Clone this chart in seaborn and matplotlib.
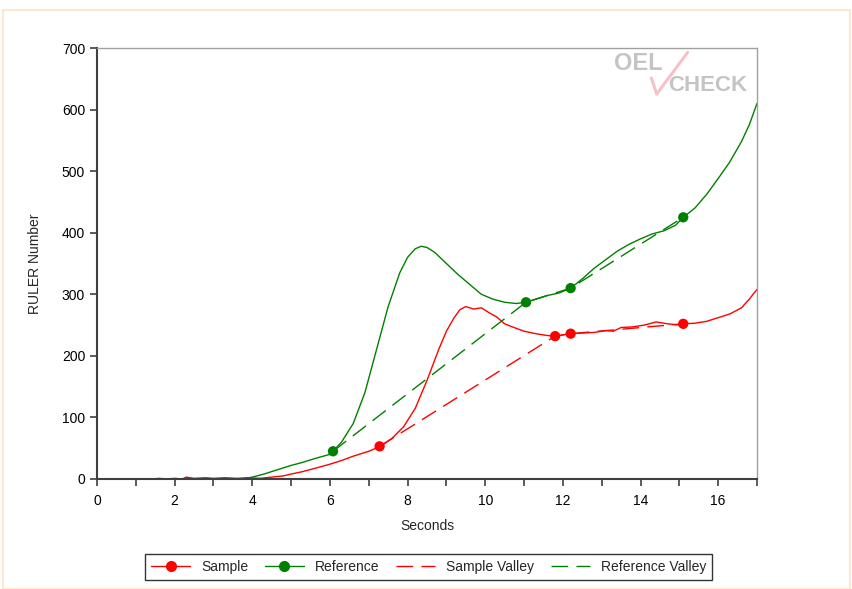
import numpy as np
import pandas as pd
import matplotlib
matplotlib.use('Agg')
import matplotlib.pyplot as plt
import seaborn as sns
from matplotlib.lines import Line2D
from matplotlib.patches import Rectangle

# DATA
sample_t = [1.4, 1.6, 1.8, 2.0, 2.2, 2.3, 2.5, 2.8, 3.0, 3.3, 3.6, 3.9, 4.2, 4.5, 4.8,
            5.0, 5.3, 5.6, 6.0, 6.3, 6.6, 7.0, 7.3, 7.6, 7.9, 8.2, 8.5, 8.8, 9.0, 9.2,
            9.35, 9.5, 9.7, 9.9, 10.1, 10.3, 10.5, 10.7, 11.0, 11.3, 11.6, 11.8, 12.0,
            12.2, 12.5, 12.8, 13.1, 13.3, 13.5, 13.8, 14.1, 14.4, 14.7, 15.0, 15.1,
            15.4, 15.7, 16.0, 16.3, 16.6, 16.8, 17.0]
sample_v = [0, 1, 0, 1, 0, 3, 1, 2, 1, 2, 1, 2, 1, 3, 5,
            8, 12, 17, 24, 30, 37, 45, 53, 66, 85, 115, 160, 210, 240, 262,
            275, 280, 276, 278, 270, 263, 252, 247, 240, 236, 233, 232, 234,
            236, 237, 238, 241, 240, 246, 247, 250, 255, 252, 250, 252,
            253, 256, 262, 268, 278, 292, 308]

ref_t = [3.7, 4.0, 4.3, 4.6, 5.0, 5.3, 5.6, 6.0, 6.08, 6.3, 6.6, 6.9, 7.2, 7.5,
         7.8, 8.0, 8.2, 8.35, 8.5, 8.7, 9.0, 9.3, 9.6, 9.9, 10.2, 10.5, 10.8,
         11.05, 11.3, 11.6, 11.9, 12.2, 12.5, 12.8, 13.1, 13.4, 13.7, 14.0, 14.3,
         14.6, 14.9, 15.1, 15.4, 15.7, 16.0, 16.3, 16.6, 16.8, 17.0]
ref_v = [0, 3, 8, 14, 22, 27, 33, 40, 45, 60, 90, 140, 210, 280,
         335, 360, 374, 378, 376, 368, 350, 332, 316, 300, 292, 287, 285,
         287, 292, 298, 302, 310, 325, 342, 356, 370, 381, 390, 398,
         403, 412, 425, 440, 462, 488, 515, 548, 575, 610]

sample_valley_t = [7.28, 11.8, 12.2, 15.1]
sample_valley_v = [53, 232, 236, 252]
ref_valley_t = [6.08, 11.05, 12.2, 15.1]
ref_valley_v = [45, 287, 310, 425]

x_ticks = list(range(0, 17, 2))
y_ticks = list(range(0, 701, 100))

RED = '#ff0000'
GREEN = '#008000'

sns.set_theme(style='white')
plt.rcParams['font.family'] = ['Liberation Sans', 'DejaVu Sans']

fig = plt.figure(figsize=(8.52, 5.89), dpi=100)
fig.patches.append(Rectangle((0.004, 0.0), 0.994, 0.983, transform=fig.transFigure,
                             fill=False, edgecolor='#fde3c4', linewidth=1.2))
ax = fig.add_axes([0.1138, 0.1868, 0.7747, 0.7317])

sample_df = pd.DataFrame({'t': sample_t, 'v': sample_v})
ref_df = pd.DataFrame({'t': ref_t, 'v': ref_v})
sv_df = pd.DataFrame({'t': sample_valley_t, 'v': sample_valley_v})
rv_df = pd.DataFrame({'t': ref_valley_t, 'v': ref_valley_v})

sns.lineplot(data=sample_df, x='t', y='v', ax=ax, color=RED, linewidth=1, sort=False)
sns.lineplot(data=ref_df, x='t', y='v', ax=ax, color=GREEN, linewidth=1, sort=False)
sns.lineplot(data=sv_df, x='t', y='v', ax=ax, color=RED, linewidth=1, sort=False,
             dashes=False, linestyle=(0, (12, 6)))
sns.lineplot(data=rv_df, x='t', y='v', ax=ax, color=GREEN, linewidth=1, sort=False,
             dashes=False, linestyle=(0, (12, 6)))
sns.scatterplot(data=sv_df, x='t', y='v', ax=ax, color=RED, s=55, edgecolor='none', zorder=5)
sns.scatterplot(data=rv_df, x='t', y='v', ax=ax, color=GREEN, s=55, edgecolor='none', zorder=5)

ax.set_xlim(0, 17)
ax.set_ylim(0, 700)
ax.set_xticks(x_ticks)
ax.set_xticks(range(0, 18), minor=True)
ax.set_yticks(y_ticks)
ax.tick_params(axis='both', which='both', direction='out', length=5, width=1.2,
               color='#404040', labelsize=10, labelcolor='black', bottom=True, left=True)
ax.tick_params(axis='x', which='both', pad=6)
for lab in ax.get_xticklabels() + ax.get_yticklabels():
    lab.set_family(['Liberation Sans Narrow', 'Liberation Sans', 'DejaVu Sans'])

for side in ['left', 'bottom']:
    ax.spines[side].set_color('#404040')
    ax.spines[side].set_linewidth(1.5)
for side in ['top', 'right']:
    ax.spines[side].set_color('#a0a0a0')
    ax.spines[side].set_linewidth(1.0)
    ax.spines[side].set_linestyle((0, (1, 1)))

ax.set_xlabel('Seconds', fontsize=10, labelpad=8)
ax.set_ylabel('RULER Number', fontsize=10, labelpad=14)

# watermark
ax.add_line(Line2D([0.84, 0.848, 0.895], [0.93, 0.893, 0.99], transform=ax.transAxes,
                   color='#f6c0c8', linewidth=2.2, solid_capstyle='round'))
ax.text(0.783, 0.963, 'OEL', transform=ax.transAxes, fontsize=17, fontweight='heavy',
        color='#c4c4c4', ha='left', va='center')
ax.text(0.866, 0.914, 'CHECK', transform=ax.transAxes, fontsize=16, fontweight='heavy',
        color='#c4c4c4', ha='left', va='center')

handles = [
    Line2D([], [], color=RED, marker='o', markersize=7, linewidth=1),
    Line2D([], [], color=GREEN, marker='o', markersize=7, linewidth=1),
    Line2D([], [], color=RED, linestyle=(0, (12, 6)), linewidth=1),
    Line2D([], [], color=GREEN, linestyle=(0, (12, 6)), linewidth=1),
]
labels = ['Sample', 'Reference', 'Sample Valley', 'Reference Valley']
leg = fig.legend(handles, labels, loc='center', bbox_to_anchor=(0.503, 0.037), ncol=4,
                 frameon=True, fancybox=False, edgecolor='black', fontsize=10,
                 handlelength=2.8, columnspacing=1.2, handletextpad=0.8,
                 borderpad=0.45)
leg.get_frame().set_linewidth(1.0)

fig.savefig('out.png', dpi=100)
